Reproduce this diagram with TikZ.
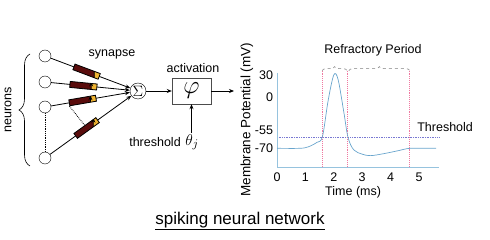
\documentclass[tikz,border=0pt]{standalone}
\usepackage{fontspec}
\setmainfont{Liberation Sans}
\usetikzlibrary{arrows.meta, positioning, calc, decorations.pathreplacing}
\definecolor{synred}{RGB}{90, 12, 12}
\definecolor{synyellow}{RGB}{240, 180, 50}
\definecolor{axisblue}{RGB}{150, 195, 222}
\definecolor{curveblue}{RGB}{105, 165, 205}
\definecolor{thrblue}{RGB}{120, 120, 210}
\definecolor{refpink}{RGB}{240, 120, 160}

\begin{document}
\begin{tikzpicture}[
  x=1pt, y=-1pt,
  every node/.style={font=\fontsize{12.5}{15}\selectfont},
  neuron/.style={draw, circle, minimum size=12pt, inner sep=0pt, fill=white},
  synbar/.style={draw, fill=synred, minimum width=27pt, minimum height=6pt, inner sep=0pt, sloped,
    path picture={
      \fill[synyellow] (path picture bounding box.north east) -- (path picture bounding box.south east)
        -- ($(path picture bounding box.south east)!6pt!(path picture bounding box.south west)$)
        -- ($(path picture bounding box.north east)!6pt!(path picture bounding box.north west)$) -- cycle;
      \draw ($(path picture bounding box.south east)!6pt!(path picture bounding box.south west)$)
        -- ($(path picture bounding box.north east)!6pt!(path picture bounding box.north west)$);}},
  sumnode/.style={draw, circle, minimum size=16pt, inner sep=0pt},
  actbox/.style={draw=black!70, fill=white, minimum width=39pt, minimum height=26pt, inner sep=0pt},
  arr/.style={-{Stealth[length=5pt, width=4pt]}, line width=0.8pt},
  tick/.style={inner sep=1pt}
]
  \useasboundingbox (0,0) rectangle (490,240);

  % Neurons
  \node[neuron] (n1) at (45,56) {};
  \node[neuron] (n2) at (45,82) {};
  \node[neuron] (n3) at (45,107) {};
  \node[neuron] (n4) at (45,158) {};
  \draw[densely dotted, line width=0.8pt] (n3) -- (n4);
  \draw[decorate, decoration={brace, amplitude=11pt}, line width=0.6pt] (30,166) -- (30,54);
  \node[rotate=90] (nlbl) at (8,110) {neurons};

  % Synapses
  \node[sumnode] (sum) at (138,91) {\scalebox{1.25}{$\Sigma$}};
  \draw[arr] (n1) -- (sum) node[synbar, pos=0.45] (s1) {};
  \draw[arr] (n2) -- (sum) node[synbar, pos=0.41] (s2) {};
  \draw[arr] (n3) -- (sum) node[synbar, pos=0.40] (s3) {};
  \draw[arr] (n4) -- (sum) node[synbar, pos=0.45] (s4) {};
  \draw[densely dotted, line width=0.8pt] (s3.south west) -- (s4.north);
  \node (synlbl) at (112,54) {synapse};

  % Activation
  \node[actbox] (act) at (191.5,91) {\scalebox{2.1}{$\varphi$}};
  \node (actlbl) at (193,68) {activation};
  \coordinate (out) at (234,91);
  \draw[arr] (sum) -- (act);
  \draw[arr] (act) -- (out);
  \node (thr) at (155,142) {threshold};
  \node[right=0pt of thr, inner sep=1pt] (theta) {\scalebox{1.3}{$\theta_j$}};
  \draw[arr] (act.south |- theta.north) -- (act.south);

  % Membrane potential plot
  \begin{scope}[shift={(277,97)}, x=28.4pt, y=0.733pt]
    \draw[thrblue, densely dotted, line width=0.7pt] (0,-55) -- (5.7,-55);
    \foreach \t in {1.59, 2.47, 4.68}
      \draw[refpink, densely dotted, line width=0.9pt] (\t,36) -- (\t,-96);
    \draw[gray, dashed, line width=0.6pt, decorate, decoration={brace, amplitude=4pt}] (1.59,36) -- (2.47,36);
    \draw[gray, dashed, line width=0.6pt, decorate, decoration={brace, amplitude=4pt}] (2.53,36) -- (4.68,36);
    \draw[axisblue, line width=0.9pt] (0,33) -- (0,-96) -- (5.7,-96);
    \draw[curveblue, line width=0.7pt] plot[smooth, tension=0.55] coordinates {
      (0,-70) (0.8,-70) (1.1,-68) (1.4,-62) (1.6,-54) (1.8,-5) (2.0,30) (2.15,24)
      (2.35,-20) (2.5,-55) (2.7,-72) (3.0,-78) (3.3,-80) (3.8,-77) (4.3,-73) (4.7,-70) (5.6,-70)};
    \foreach \t in {0,...,5}
      \node[tick] (xt\t) at (\t,-109) {\t};
    \foreach \v/\lab in {30/30, 0/0, -45/-55, -70/-70}
      \node[tick, anchor=east] (yt\lab) at (-0.1,\v) {\lab};
    \node[rotate=90, font=\fontsize{13.5}{15}\selectfont] (ylbl) at (-1.06,-31) {Membrane Potential (mV)};
    \node (xlbl) at (2.68,-130) {Time (ms)};
    \node (reflbl) at (3.38,64) {Refractory Period};
    \node (thrlbl) at (5.92,-41) {Threshold};
  \end{scope}

  % Title
  \node[font=\fontsize{17}{20}\selectfont] (title) at (240,221) {\underline{spiking neural network}};
\end{tikzpicture}
\end{document}
